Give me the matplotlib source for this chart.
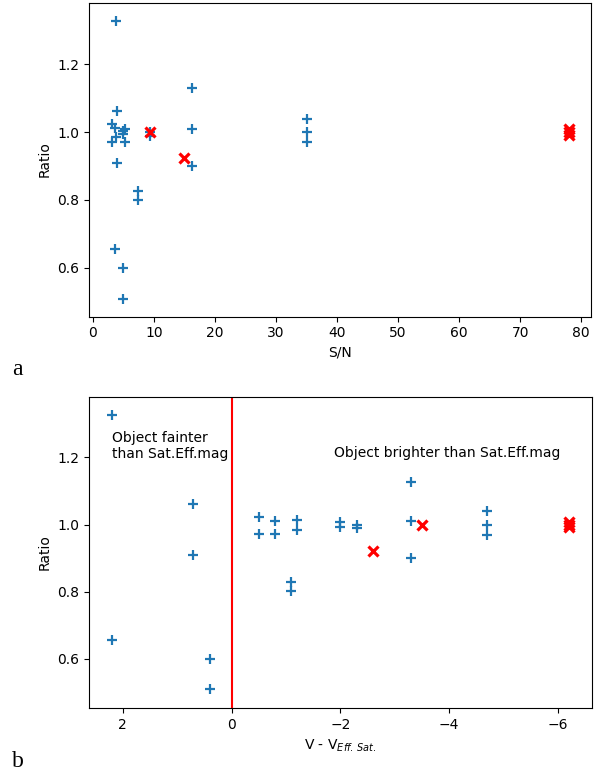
import matplotlib
matplotlib.use("Agg")
import matplotlib.pyplot as plt

# Panel a: S/N vs ratio
sn_blue = [3.8, 16.2, 3.9, 3.1, 3.6, 5.3, 5.0, 4.9, 3.8, 3.1, 5.3, 9.3, 9.3,
           16.2, 16.2, 3.9, 7.4, 7.4, 3.6, 4.9, 4.9, 35.1, 35.1, 35.1]
ratio_a_blue = [1.326, 1.13, 1.061, 1.023, 1.013, 1.01, 1.003, 0.993, 0.986, 0.971, 0.972, 0.988, 1.0,
                1.01, 0.90, 0.908, 0.826, 0.799, 0.654, 0.598, 0.509, 1.038, 1.0, 0.97]
sn_red = [9.3, 14.85, 78.0, 78.0, 78.0]
ratio_a_red = [1.0, 0.922, 1.008, 1.0, 0.992]

# Panel b: V - V_EffSat vs ratio
dv_blue = [2.2, 2.2, 0.7, 0.7, 0.4, 0.4, -0.5, -0.5, -0.8, -0.8, -1.2, -1.2,
           -1.1, -1.1, -2.0, -2.0, -2.3, -2.3, -3.3, -3.3, -3.3, -4.7, -4.7, -4.7]
ratio_b_blue = [1.326, 0.656, 1.06, 0.91, 0.60, 0.51, 1.022, 0.972, 1.009, 0.973, 1.012, 0.985,
                0.828, 0.801, 1.007, 0.992, 1.0, 0.99, 1.128, 1.01, 0.90, 1.039, 1.0, 0.97]
dv_red = [-2.6, -3.5, -6.2, -6.2, -6.2]
ratio_b_red = [0.922, 1.0, 1.008, 1.0, 0.992]

yticks = [0.6, 0.8, 1.0, 1.2]
xticks_a = [0, 10, 20, 30, 40, 50, 60, 70, 80]
xticks_b = [2, 0, -2, -4, -6]

BLUE = "#1f77b4"
RED = "#ff0000"

fig = plt.figure(figsize=(6.01, 7.73), dpi=100)
W, H = 601, 773

def axes_px(left, top, right, bottom):
    return fig.add_axes([left / W, 1 - bottom / H, (right - left) / W, (bottom - top) / H])

ax1 = axes_px(89, 2.5, 591, 316.5)
ax2 = axes_px(89, 396.7, 591.7, 708)

blue_kw = dict(linestyle="none", marker="+", color=BLUE, markersize=6.5, markeredgewidth=1.6)
red_kw = dict(linestyle="none", marker="x", color=RED, markersize=7, markeredgewidth=2.3)

ax1.plot(sn_blue, ratio_a_blue, **blue_kw)
ax1.plot(sn_red, ratio_a_red, **red_kw)
ax1.set_xlim(-0.63, 81.6)
ax1.set_ylim(0.456, 1.382)
ax1.set_xticks(xticks_a)
ax1.set_yticks(yticks)
ax1.set_xlabel("S/N")
ax1.set_ylabel("Ratio")

ax2.plot(dv_blue, ratio_b_blue, **blue_kw)
ax2.plot(dv_red, ratio_b_red, **red_kw)
ax2.axvline(0, color=RED, linewidth=1.5)
ax2.set_xlim(2.62, -6.62)
ax2.set_ylim(0.453, 1.381)
ax2.set_xticks(xticks_b)
ax2.set_yticks(yticks)
ax2.set_xlabel(r"V - V$_{Eff.\,Sat.}$")
ax2.set_ylabel("Ratio")
ax2.text(2.2, 1.234, "Object fainter\nthan Sat.Eff.mag", ha="left", va="center", fontsize=10)
ax2.text(-1.88, 1.212, "Object brighter than Sat.Eff.mag", ha="left", va="center", fontsize=10)

fig.text(12 / W, 1 - 375 / H, "a", family="Liberation Serif", fontsize=17, ha="left", va="baseline")
fig.text(12 / W, 1 - 767 / H, "b", family="Liberation Serif", fontsize=17, ha="left", va="baseline")

fig.savefig("out.png", dpi=100)
